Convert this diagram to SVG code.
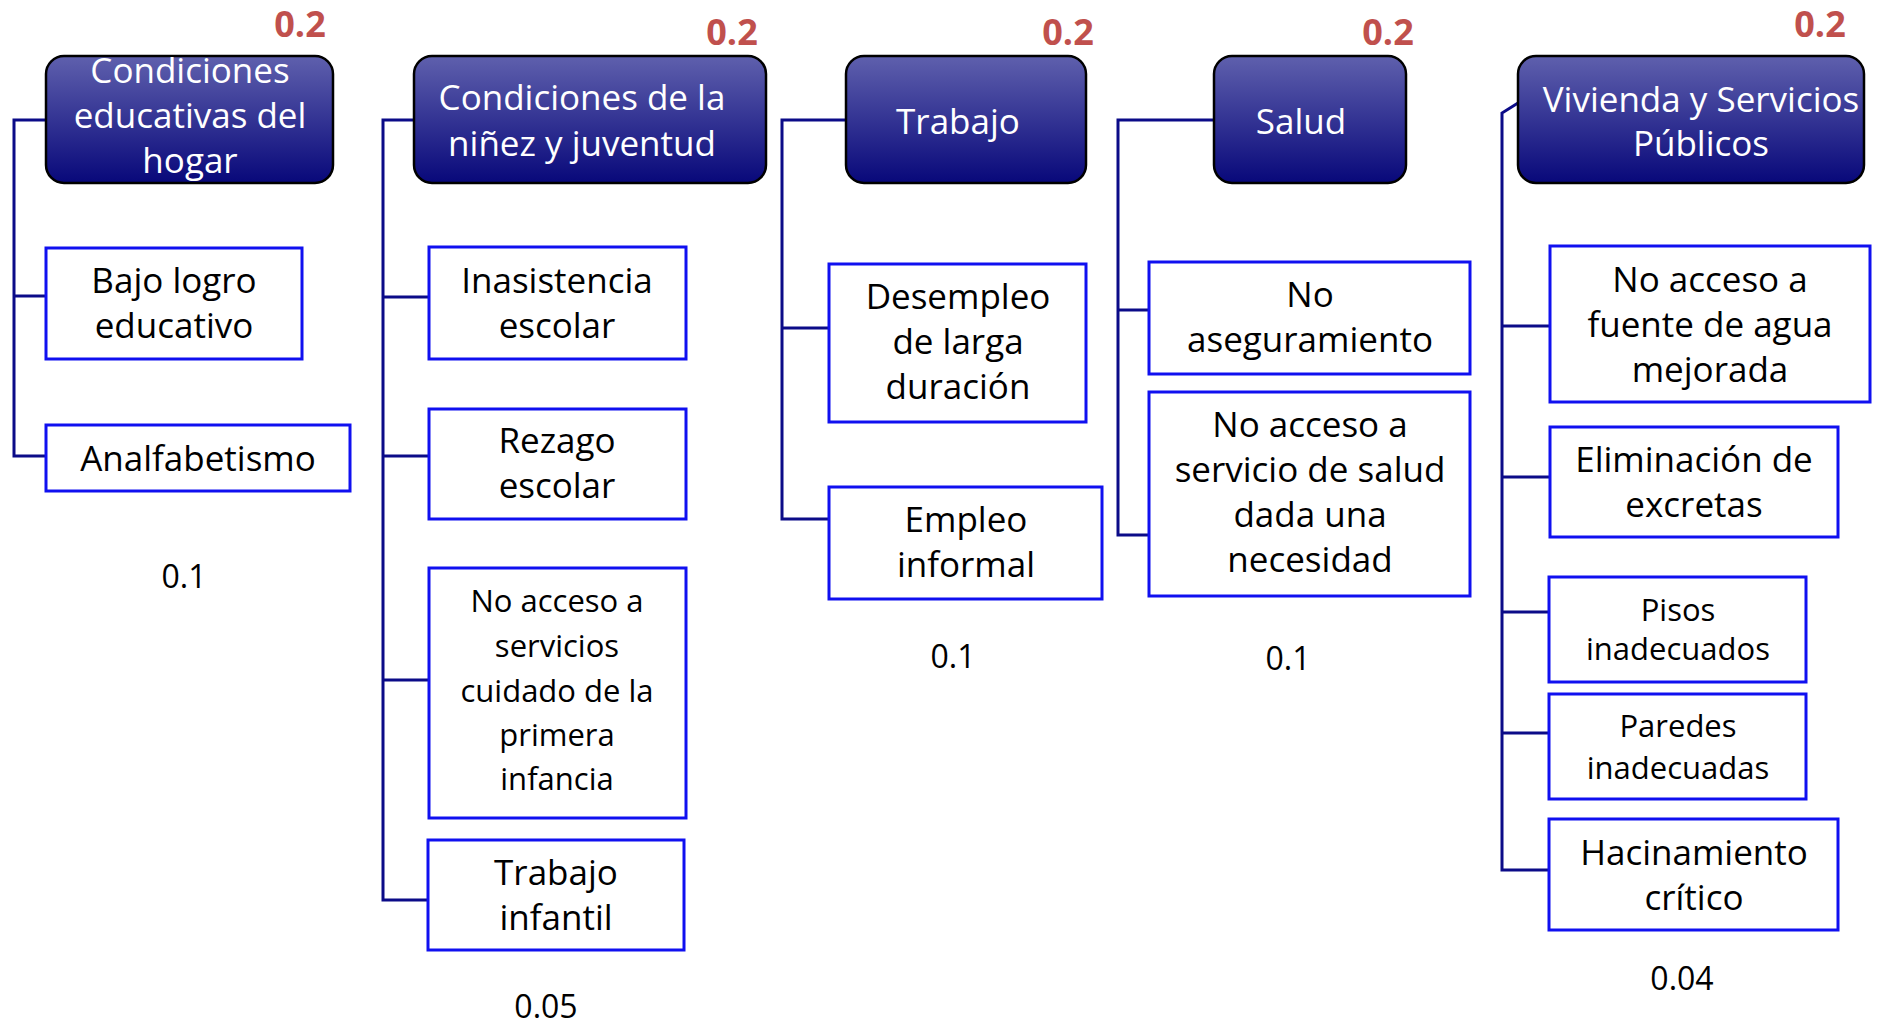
<svg xmlns="http://www.w3.org/2000/svg" width="1877" height="1024" viewBox="0 0 1877 1024">
<defs>
<linearGradient id="hg" x1="0" y1="0" x2="0" y2="1">
<stop offset="0" stop-color="#5f60ad"/>
<stop offset="1" stop-color="#08087a"/>
</linearGradient>
</defs>
<style>
.hd{fill:url(#hg);stroke:#000;stroke-width:2.5}
.ht{font-family:"Open Sans","DejaVu Sans",sans-serif;font-size:35px;fill:#fff;text-anchor:middle}
.bx{fill:#fff;stroke:#1010f0;stroke-width:3}
.bt{font-family:"Open Sans","DejaVu Sans",sans-serif;font-size:35px;fill:#000;text-anchor:middle}
.st{font-family:"Open Sans","DejaVu Sans",sans-serif;font-size:31px;fill:#000;text-anchor:middle}
.wt{font-family:"Open Sans","DejaVu Sans",sans-serif;font-size:36px;font-weight:bold;fill:#c0504d;text-anchor:middle}
.nt{font-family:"Open Sans","DejaVu Sans",sans-serif;font-size:32px;fill:#000;text-anchor:middle}
.cn{fill:none;stroke:#0b0b88;stroke-width:3}
</style>
<rect width="1877" height="1024" fill="#fff"/>
<g id="connectors">
<polyline class="cn" points="46,120 14,120 14,456 46,456"/>
<line class="cn" x1="14" y1="296" x2="46" y2="296"/>
<polyline class="cn" points="414,120 383,120 383,900 428,900"/>
<line class="cn" x1="383" y1="297" x2="429" y2="297"/>
<line class="cn" x1="383" y1="456" x2="429" y2="456"/>
<line class="cn" x1="383" y1="680" x2="429" y2="680"/>
<polyline class="cn" points="846,120 782,120 782,519 829,519"/>
<line class="cn" x1="782" y1="328" x2="829" y2="328"/>
<polyline class="cn" points="1214,120 1118,120 1118,535 1149,535"/>
<line class="cn" x1="1118" y1="310" x2="1149" y2="310"/>
<polyline class="cn" points="1518,103 1502,113 1502,870 1549,870"/>
<line class="cn" x1="1502" y1="326" x2="1550" y2="326"/>
<line class="cn" x1="1502" y1="477" x2="1550" y2="477"/>
<line class="cn" x1="1502" y1="612" x2="1549" y2="612"/>
<line class="cn" x1="1502" y1="733" x2="1549" y2="733"/>
</g>
<g id="h1">
<rect class="hd" x="46" y="56" width="287" height="127" rx="18"/>
<text class="ht" x="190" y="83">Condiciones</text>
<text class="ht" x="190" y="128">educativas del</text>
<text class="ht" x="190" y="173">hogar</text>
<text class="wt" x="300" y="37">0.2</text>
</g>
<g id="h2">
<rect class="hd" x="414" y="56" width="352" height="127" rx="18"/>
<text class="ht" x="582" y="110">Condiciones de la</text>
<text class="ht" x="582" y="156">niñez y juventud</text>
<text class="wt" x="732" y="45">0.2</text>
</g>
<g id="h3">
<rect class="hd" x="846" y="56" width="240" height="127" rx="18"/>
<text class="ht" x="958" y="134">Trabajo</text>
<text class="wt" x="1068" y="45">0.2</text>
</g>
<g id="h4">
<rect class="hd" x="1214" y="56" width="192" height="127" rx="18"/>
<text class="ht" x="1301" y="134">Salud</text>
<text class="wt" x="1388" y="45">0.2</text>
</g>
<g id="h5">
<rect class="hd" x="1518" y="56" width="346" height="127" rx="18"/>
<text class="ht" x="1701" y="112">Vivienda y Servicios</text>
<text class="ht" x="1701" y="156">Públicos</text>
<text class="wt" x="1820" y="37">0.2</text>
</g>
<g id="n-bajo">
<rect class="bx" x="46" y="248" width="256" height="111"/>
<text class="bt" x="174" y="293">Bajo logro</text>
<text class="bt" x="174" y="338">educativo</text>
</g>
<g id="n-analf">
<rect class="bx" x="46" y="425" width="304" height="66"/>
<text class="bt" x="198" y="471">Analfabetismo</text>
</g>
<text class="nt" x="184" y="588">0.1</text>
<g id="n-inasist">
<rect class="bx" x="429" y="247" width="257" height="112"/>
<text class="bt" x="557" y="293">Inasistencia</text>
<text class="bt" x="557" y="338">escolar</text>
</g>
<g id="n-rezago">
<rect class="bx" x="429" y="409" width="257" height="110"/>
<text class="bt" x="557" y="453">Rezago</text>
<text class="bt" x="557" y="498">escolar</text>
</g>
<g id="n-cuidado">
<rect class="bx" x="429" y="568" width="257" height="250"/>
<text class="st" x="557" y="612">No acceso a</text>
<text class="st" x="557" y="657">servicios</text>
<text class="st" x="557" y="702">cuidado de la</text>
<text class="st" x="557" y="746">primera</text>
<text class="st" x="557" y="790">infancia</text>
</g>
<g id="n-trabinf">
<rect class="bx" x="428" y="840" width="256" height="110"/>
<text class="bt" x="556" y="885">Trabajo</text>
<text class="bt" x="556" y="930">infantil</text>
</g>
<text class="nt" x="546" y="1018">0.05</text>
<g id="n-desempleo">
<rect class="bx" x="829" y="264" width="257" height="158"/>
<text class="bt" x="958" y="309">Desempleo</text>
<text class="bt" x="958" y="354">de larga</text>
<text class="bt" x="958" y="399">duración</text>
</g>
<g id="n-empleo">
<rect class="bx" x="829" y="487" width="273" height="112"/>
<text class="bt" x="966" y="532">Empleo</text>
<text class="bt" x="966" y="577">informal</text>
</g>
<text class="nt" x="953" y="668">0.1</text>
<g id="n-noaseg">
<rect class="bx" x="1149" y="262" width="321" height="112"/>
<text class="bt" x="1310" y="307">No</text>
<text class="bt" x="1310" y="352">aseguramiento</text>
</g>
<g id="n-noaccsalud">
<rect class="bx" x="1149" y="392" width="321" height="204"/>
<text class="bt" x="1310" y="437">No acceso a</text>
<text class="bt" x="1310" y="482">servicio de salud</text>
<text class="bt" x="1310" y="527">dada una</text>
<text class="bt" x="1310" y="572">necesidad</text>
</g>
<text class="nt" x="1288" y="670">0.1</text>
<g id="n-agua">
<rect class="bx" x="1550" y="246" width="320" height="156"/>
<text class="bt" x="1710" y="292">No acceso a</text>
<text class="bt" x="1710" y="337">fuente de agua</text>
<text class="bt" x="1710" y="382">mejorada</text>
</g>
<g id="n-excretas">
<rect class="bx" x="1550" y="427" width="288" height="110"/>
<text class="bt" x="1694" y="472">Eliminación de</text>
<text class="bt" x="1694" y="517">excretas</text>
</g>
<g id="n-pisos">
<rect class="bx" x="1549" y="577" width="257" height="105"/>
<text class="st" x="1678" y="621">Pisos</text>
<text class="st" x="1678" y="660">inadecuados</text>
</g>
<g id="n-paredes">
<rect class="bx" x="1549" y="694" width="257" height="105"/>
<text class="st" x="1678" y="737">Paredes</text>
<text class="st" x="1678" y="779">inadecuadas</text>
</g>
<g id="n-hacin">
<rect class="bx" x="1549" y="819" width="289" height="111"/>
<text class="bt" x="1694" y="865">Hacinamiento</text>
<text class="bt" x="1694" y="910">crítico</text>
</g>
<text class="nt" x="1682" y="990">0.04</text>
</svg>
